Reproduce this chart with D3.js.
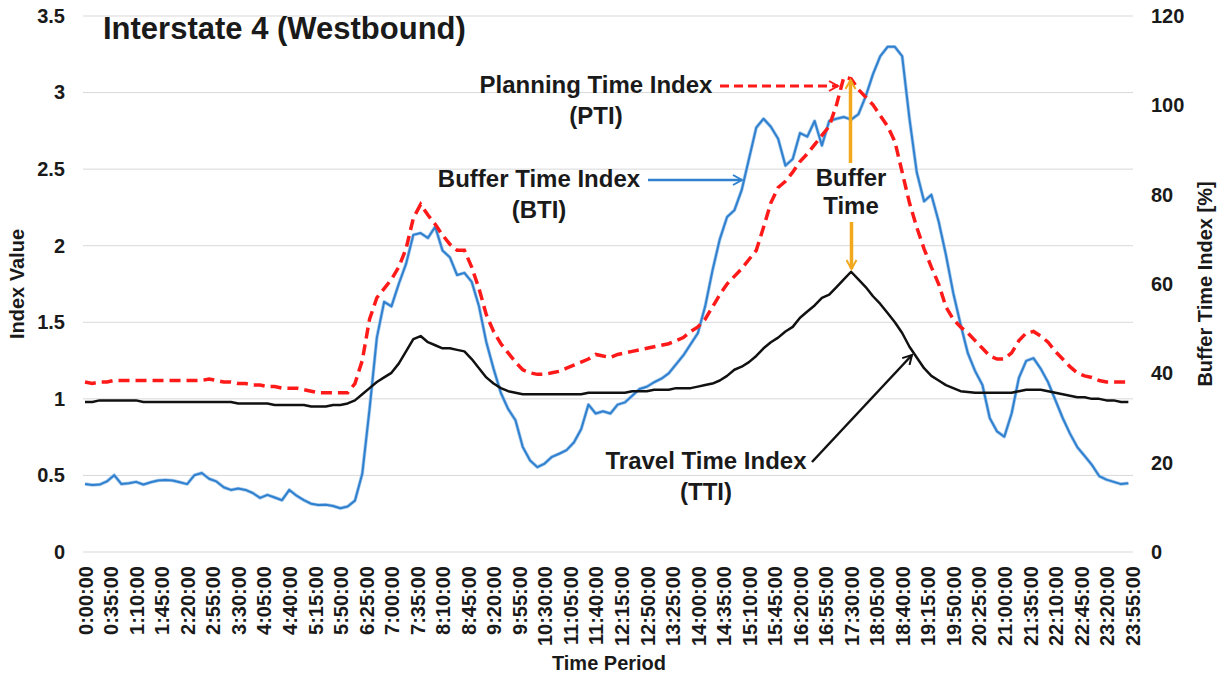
<!DOCTYPE html>
<html>
<head>
<meta charset="utf-8">
<script src="https://cdn.jsdelivr.net/npm/d3@7"></script>
<style>
body { margin: 0; background: #fff; }
svg text { font-family: "Liberation Sans", Arial, sans-serif; font-weight: bold; fill: #1a1a1a; }
</style>
</head>
<body>
<div id="chart"></div>
<script>
// time of day in minutes, one reading every 10 minutes
var times = d3.range(0, 1440, 10);

var tickLabels = ["0:00:00", "0:35:00", "1:10:00", "1:45:00", "2:20:00", "2:55:00", "3:30:00",
	"4:05:00", "4:40:00", "5:15:00", "5:50:00", "6:25:00", "7:00:00", "7:35:00", "8:10:00",
	"8:45:00", "9:20:00", "9:55:00", "10:30:00", "11:05:00", "11:40:00", "12:15:00", "12:50:00",
	"13:25:00", "14:00:00", "14:35:00", "15:10:00", "15:45:00", "16:20:00", "16:55:00", "17:30:00",
	"18:05:00", "18:40:00", "19:15:00", "19:50:00", "20:25:00", "21:00:00", "21:35:00", "22:10:00",
	"22:45:00", "23:20:00", "23:55:00"];

var leftTicks = [0, 0.5, 1, 1.5, 2, 2.5, 3, 3.5];
var rightTicks = [0, 20, 40, 60, 80, 100, 120];

// Travel Time Index
var tti = [0.98, 0.98, 0.99, 0.99, 0.99, 0.99,
	0.99, 0.99, 0.98, 0.98, 0.98, 0.98,
	0.98, 0.98, 0.98, 0.98, 0.98, 0.98,
	0.98, 0.98, 0.98, 0.97, 0.97, 0.97,
	0.97, 0.97, 0.96, 0.96, 0.96, 0.96,
	0.96, 0.95, 0.95, 0.95, 0.96, 0.96,
	0.97, 0.99, 1.03, 1.07, 1.11, 1.14,
	1.17, 1.23, 1.31, 1.39, 1.41, 1.37,
	1.35, 1.33, 1.33, 1.32, 1.31, 1.26,
	1.20, 1.14, 1.10, 1.07, 1.05, 1.04,
	1.03, 1.03, 1.03, 1.03, 1.03, 1.03,
	1.03, 1.03, 1.03, 1.04, 1.04, 1.04,
	1.04, 1.04, 1.04, 1.05, 1.05, 1.05,
	1.06, 1.06, 1.06, 1.07, 1.07, 1.07,
	1.08, 1.09, 1.10, 1.12, 1.15, 1.19,
	1.21, 1.24, 1.28, 1.33, 1.37, 1.40,
	1.44, 1.47, 1.53, 1.57, 1.61, 1.66,
	1.68, 1.73, 1.78, 1.83, 1.78, 1.73,
	1.67, 1.62, 1.56, 1.50, 1.43, 1.34,
	1.27, 1.20, 1.15, 1.12, 1.09, 1.07,
	1.05, 1.045, 1.04, 1.04, 1.04, 1.04,
	1.04, 1.04, 1.05, 1.06, 1.06, 1.06,
	1.05, 1.04, 1.03, 1.02, 1.01, 1.01,
	1.00, 1.00, 0.99, 0.99, 0.98, 0.98];

// Planning Time Index
var pti = [1.11, 1.10, 1.11, 1.11, 1.12, 1.12,
	1.12, 1.12, 1.12, 1.12, 1.12, 1.12,
	1.12, 1.12, 1.12, 1.12, 1.12, 1.13,
	1.12, 1.11, 1.11, 1.10, 1.10, 1.09,
	1.09, 1.08, 1.08, 1.07, 1.07, 1.07,
	1.06, 1.05, 1.04, 1.04, 1.04, 1.04,
	1.04, 1.10, 1.25, 1.52, 1.66, 1.72,
	1.78, 1.86, 1.98, 2.18, 2.27, 2.20,
	2.14, 2.07, 2.01, 1.97, 1.97, 1.86,
	1.72, 1.55, 1.44, 1.36, 1.30, 1.24,
	1.19, 1.17, 1.16, 1.16, 1.17, 1.18,
	1.20, 1.22, 1.24, 1.26, 1.29, 1.28,
	1.27, 1.29, 1.30, 1.31, 1.32, 1.33,
	1.34, 1.35, 1.36, 1.38, 1.40, 1.44,
	1.47, 1.52, 1.60, 1.68, 1.75, 1.80,
	1.85, 1.91, 1.97, 2.12, 2.28, 2.38,
	2.42, 2.48, 2.55, 2.60, 2.66, 2.72,
	2.78, 2.92, 3.10, 3.09, 3.02, 2.97,
	2.92, 2.85, 2.78, 2.68, 2.48, 2.28,
	2.12, 1.98, 1.86, 1.75, 1.60, 1.52,
	1.47, 1.43, 1.38, 1.33, 1.28, 1.26,
	1.26, 1.30, 1.38, 1.43, 1.44, 1.41,
	1.37, 1.31, 1.26, 1.21, 1.17, 1.15,
	1.14, 1.12, 1.11, 1.11, 1.11, 1.11];

// Buffer Time Index [%] (right axis)
var bti = [15.2, 15.0, 15.1, 15.8, 17.2, 15.2,
	15.4, 15.7, 15.1, 15.6, 16.0, 16.1,
	16.0, 15.6, 15.2, 17.2, 17.7, 16.4,
	15.8, 14.5, 13.9, 14.2, 13.9, 13.2,
	12.1, 12.8, 12.2, 11.6, 13.9, 12.6,
	11.6, 10.8, 10.5, 10.6, 10.3, 9.8,
	10.2, 11.5, 17.5, 32.0, 48.0, 56.0,
	55.0, 60.0, 64.5, 71.0, 71.4, 70.3,
	72.8, 67.5, 66.0, 62.0, 62.5, 60.5,
	55.0, 47.0, 41.0, 35.6, 32.0, 29.5,
	23.5, 20.5, 19.0, 19.8, 21.3, 22.0,
	22.8, 24.5, 27.5, 33.0, 31.0, 31.5,
	31.0, 33.0, 33.5, 35.0, 36.5, 37.0,
	38.0, 38.8, 40.0, 42.0, 44.0, 46.5,
	49.0, 55.0, 63.0, 70.0, 75.0, 76.5,
	81.0, 88.0, 95.0, 97.0, 95.2, 92.5,
	86.5, 88.0, 93.8, 93.0, 96.5, 91.0,
	96.5, 97.0, 97.4, 96.8, 98.0, 102.0,
	107.0, 111.0, 113.1, 113.1, 111.0, 97.0,
	85.0, 78.5, 80.0, 74.0, 66.5, 58.0,
	51.0, 44.5, 40.5, 37.4, 30.0, 27.0,
	25.8, 31.0, 39.0, 42.8, 43.4, 41.0,
	38.0, 34.0, 30.0, 26.5, 23.5, 21.5,
	19.5, 17.0, 16.2, 15.7, 15.2, 15.4];

var width = 1223;
var height = 678;
var plot = { left: 83, right: 1133, top: 16, bottom: 552 };

function toMinutes(s) {
	var p = s.split(":");
	return +p[0] * 60 + +p[1];
}

var svg = d3.select("#chart")
	.append("svg")
	.attr("width", width)
	.attr("height", height);

var x = d3.scaleLinear()
	.domain([0, 1435])
	.range([85, 1132]);

var yLeft = d3.scaleLinear()
	.domain([0, 3.5])
	.range([plot.bottom, plot.top]);

var yRight = d3.scaleLinear()
	.domain([0, 120])
	.range([plot.bottom, plot.top]);

// markers for the annotation arrows
var defs = svg.append("defs");
function addMarker(id, color) {
	defs.append("marker")
		.attr("id", id)
		.attr("viewBox", "0 0 12 12")
		.attr("refX", 10)
		.attr("refY", 6)
		.attr("markerWidth", 12)
		.attr("markerHeight", 12)
		.attr("markerUnits", "userSpaceOnUse")
		.attr("orient", "auto")
		.append("path")
		.attr("d", "M1,1 L10,6 L1,11")
		.attr("fill", "none")
		.attr("stroke", color)
		.attr("stroke-width", 2);
}
addMarker("arrow-red", "#ff1a1a");
addMarker("arrow-blue", "#2f80cf");
addMarker("arrow-orange", "#f2a81d");
addMarker("arrow-black", "#111");

// gridlines
svg.append("g")
	.selectAll("line")
	.data(leftTicks)
	.enter()
	.append("line")
	.attr("x1", plot.left)
	.attr("x2", plot.right)
	.attr("y1", function(d) { return yLeft(d); })
	.attr("y2", function(d) { return yLeft(d); })
	.attr("stroke", "#d9d9d9")
	.attr("stroke-width", 1);

// axes
var leftAxis = svg.append("g")
	.attr("transform", "translate(" + plot.left + ",0)")
	.call(d3.axisLeft(yLeft).tickValues(leftTicks).tickSize(0).tickPadding(18).tickFormat(d3.format("")));

var rightAxis = svg.append("g")
	.attr("transform", "translate(" + plot.right + ",0)")
	.call(d3.axisRight(yRight).tickValues(rightTicks).tickSize(0).tickPadding(18));

var bottomAxis = svg.append("g")
	.attr("transform", "translate(0," + plot.bottom + ")")
	.call(d3.axisBottom(x)
		.tickValues(tickLabels.map(toMinutes))
		.tickSize(0)
		.tickFormat(function(d, i) { return tickLabels[i]; }));

bottomAxis.selectAll("text")
	.attr("transform", "rotate(-90)")
	.attr("text-anchor", "end")
	.attr("x", -14)
	.attr("y", 0)
	.attr("dy", "0.36em");

[leftAxis, rightAxis, bottomAxis].forEach(function(a) {
	a.select(".domain").remove();
	a.selectAll("text")
		.style("font-size", "20px")
		.style("font-family", "'Liberation Sans', Arial, sans-serif")
		.style("font-weight", "bold")
		.attr("fill", "#1a1a1a");
});

// axis titles
svg.append("text")
	.attr("transform", "translate(24,284) rotate(-90)")
	.attr("text-anchor", "middle")
	.style("font-size", "20px")
	.text("Index Value");

svg.append("text")
	.attr("transform", "translate(1212,284) rotate(-90)")
	.attr("text-anchor", "middle")
	.style("font-size", "20px")
	.text("Buffer Time Index [%]");

svg.append("text")
	.attr("x", 609)
	.attr("y", 670)
	.attr("text-anchor", "middle")
	.style("font-size", "20px")
	.text("Time Period");

// series
var lineLeft = function(values) {
	return d3.line()
		.x(function(d, i) { return x(times[i]); })
		.y(function(d) { return yLeft(d); })(values);
};

var btiPath = d3.line()
	.x(function(d, i) { return x(times[i]); })
	.y(function(d) { return yRight(d); })(bti);

svg.append("path")
	.attr("d", btiPath)
	.attr("fill", "none")
	.attr("stroke", "#a9cbec")
	.attr("stroke-width", 3.5)
	.attr("stroke-linejoin", "round");

svg.append("path")
	.attr("d", btiPath)
	.attr("fill", "none")
	.attr("stroke", "#2f80cf")
	.attr("stroke-width", 2)
	.attr("stroke-linejoin", "round");

svg.append("path")
	.attr("d", lineLeft(pti))
	.attr("fill", "none")
	.attr("stroke", "#ff1a1a")
	.attr("stroke-width", 3.5)
	.attr("stroke-dasharray", "11,6");

svg.append("path")
	.attr("d", lineLeft(tti))
	.attr("fill", "none")
	.attr("stroke", "#111")
	.attr("stroke-width", 2.5)
	.attr("stroke-linejoin", "round");

// title
svg.append("text")
	.attr("x", 103)
	.attr("y", 39)
	.style("font-size", "31px")
	.text("Interstate 4 (Westbound)");

// annotations
function label(lines, cx, y0, lh) {
	var t = svg.append("text")
		.attr("text-anchor", "middle")
		.style("font-size", "24px");
	lines.forEach(function(s, i) {
		t.append("tspan").attr("x", cx).attr("y", y0 + i * lh).text(s);
	});
}

label(["Planning Time Index", "(PTI)"], 596, 93, 31);
label(["Buffer Time Index", "(BTI)"], 539, 187, 31);
label(["Buffer", "Time"], 851, 186, 28);
label(["Travel Time Index", "(TTI)"], 706, 469, 31);

svg.append("line")
	.attr("x1", 720).attr("y1", 86).attr("x2", 838).attr("y2", 86)
	.attr("stroke", "#ff1a1a").attr("stroke-width", 3)
	.attr("stroke-dasharray", "9,5")
	.attr("marker-end", "url(#arrow-red)");

svg.append("line")
	.attr("x1", 648).attr("y1", 180).attr("x2", 742).attr("y2", 180)
	.attr("stroke", "#2f80cf").attr("stroke-width", 2.5)
	.attr("marker-end", "url(#arrow-blue)");

svg.append("line")
	.attr("x1", 850.5).attr("y1", 163).attr("x2", 850.5).attr("y2", 80)
	.attr("stroke", "#f2a81d").attr("stroke-width", 3.5)
	.attr("marker-end", "url(#arrow-orange)");

svg.append("line")
	.attr("x1", 851.5).attr("y1", 222).attr("x2", 851.5).attr("y2", 269)
	.attr("stroke", "#f2a81d").attr("stroke-width", 3.5)
	.attr("marker-end", "url(#arrow-orange)");

svg.append("line")
	.attr("x1", 812).attr("y1", 462).attr("x2", 912).attr("y2", 355)
	.attr("stroke", "#111").attr("stroke-width", 2.5)
	.attr("marker-end", "url(#arrow-black)");
</script>
</body>
</html>
